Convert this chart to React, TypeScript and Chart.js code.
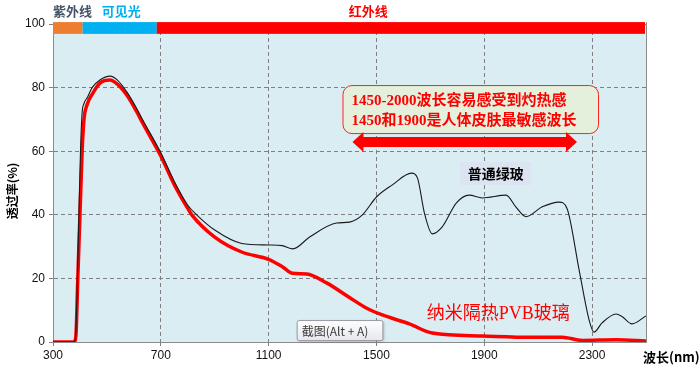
import React, { useEffect, useRef } from "react";
import { Chart, registerables } from "chart.js";

Chart.register(...registerables);

// 普通绿玻 (ordinary green glass)
const greenWl = [300, 375, 383, 390, 396, 402, 408, 415, 428, 445, 474, 511, 540, 575, 610, 633, 700, 750, 800, 833, 900, 1000, 1100, 1150, 1190, 1252, 1352, 1400, 1448, 1500, 1559, 1630, 1652, 1678, 1707, 1744, 1796, 1844, 1893, 1981, 2017, 2055, 2115, 2178, 2207, 2252, 2289, 2307, 2337, 2389, 2411, 2448, 2500];
const greenT = [0, 0, 1, 18, 40, 60, 72, 75, 77, 80, 82.4, 83.6, 82.3, 78.5, 73.5, 69.8, 59.5, 50.5, 43, 40, 35.2, 31, 30.5, 30.3, 29.3, 33, 37.4, 37.7, 40, 45.6, 49.4, 53.1, 51.6, 40.5, 34, 36.2, 43.7, 46.2, 45.3, 46.2, 42.5, 39.4, 42.5, 44, 42, 22.6, 6.9, 3.1, 6, 8.8, 8, 5.7, 8.2];

// 纳米隔热PVB玻璃 (nano heat-insulating PVB glass)
const pvbWl = [300, 378, 385, 392, 400, 408, 415, 426, 448, 475, 511, 540, 575, 610, 633, 700, 750, 800, 815, 900, 1000, 1100, 1152, 1189, 1241, 1315, 1400, 1462, 1522, 1622, 1707, 1893, 2078, 2189, 2263, 2389, 2500];
const pvbT = [0, 0, 2, 20, 40, 60, 70, 74.5, 78.3, 81.5, 82.4, 81, 77.5, 72.5, 68.8, 58.5, 49.5, 42, 40, 33, 28.3, 26, 23.6, 21.6, 21.4, 18.6, 14, 10.7, 8.5, 5.7, 2.8, 1.9, 1.5, 1.5, 0.5, 0.7, 0.3];

// spectrum band (nm boundaries)
const bandNames = ["紫外线", "可见光", "红外线"];
const bandStart = [300, 410, 685];
const bandEnd = [410, 685, 2500];
const bandColors = ["#ed7d31", "#00b0f0", "#ff0000"];

const xTicks = [300, 700, 1100, 1500, 1900, 2300];
const yTicks = [0, 20, 40, 60, 80, 100];

const decor = {
  id: "decor",
  beforeDraw(chart: any) {
    const { ctx, chartArea } = chart;
    ctx.save();
    ctx.fillStyle = "#daedf3";
    ctx.fillRect(chartArea.left, chartArea.top, chartArea.right - chartArea.left, chartArea.bottom - chartArea.top);
    ctx.restore();
  },
  afterDraw(chart: any) {
    const { ctx, chartArea } = chart;
    const xs = chart.scales.x;
    const ys = chart.scales.y;
    const px = (v: number) => xs.getPixelForValue(v);
    const py = (v: number) => ys.getPixelForValue(v);
    ctx.save();

    // band
    const bTop = py(100.6);
    const bBot = py(96.9);
    for (let i = 0; i < bandStart.length; i++) {
      ctx.fillStyle = bandColors[i];
      const x0 = px(bandStart[i]);
      const x1 = Math.min(px(bandEnd[i]), chartArea.right - 1);
      ctx.fillRect(x0, bTop, x1 - x0, bBot - bTop);
    }
    // right frame
    ctx.strokeStyle = "#8c8c8c";
    ctx.lineWidth = 1;
    ctx.beginPath();
    ctx.moveTo(Math.round(chartArea.right) + 0.5, bTop);
    ctx.lineTo(Math.round(chartArea.right) + 0.5, chartArea.bottom);
    ctx.stroke();

    // band labels
    ctx.font = "bold 13px 'Noto Sans CJK SC', sans-serif";
    ctx.textBaseline = "middle";
    ctx.textAlign = "left";
    ctx.fillStyle = "#44546a";
    ctx.fillText(bandNames[0], px(300), 11);
    ctx.fillStyle = "#00b0f0";
    ctx.fillText(bandNames[1], px(481), 11);
    ctx.fillStyle = "#ff0000";
    ctx.textAlign = "center";
    ctx.fillText(bandNames[2], px(1470), 11);

    // annotation box
    const rx0 = px(1374), rx1 = px(2322), ry0 = py(80.8), ry1 = py(65.7);
    ctx.beginPath();
    ctx.roundRect(rx0 + 0.5, ry0 + 0.5, rx1 - rx0, ry1 - ry0, 9);
    ctx.fillStyle = "#e4f0dc";
    ctx.fill();
    ctx.strokeStyle = "#ff2020";
    ctx.lineWidth = 1;
    ctx.stroke();
    ctx.fillStyle = "#ff0000";
    ctx.font = "bold 15px 'Liberation Serif', 'Noto Sans CJK SC', serif";
    ctx.textAlign = "left";
    ctx.textBaseline = "middle";
    ctx.fillText("1450-2000波长容易感受到灼热感", px(1407), py(75.8));
    ctx.fillText("1450和1900是人体皮肤最敏感波长", px(1407), py(69.5));

    // double arrow
    const ax0 = px(1411), ax1 = px(2244), ay = py(62.9);
    const head = 11, shaft = 5, hh = 10;
    ctx.beginPath();
    ctx.moveTo(ax0, ay);
    ctx.lineTo(ax0 + head, ay - hh);
    ctx.lineTo(ax0 + head, ay - shaft);
    ctx.lineTo(ax1 - head, ay - shaft);
    ctx.lineTo(ax1 - head, ay - hh);
    ctx.lineTo(ax1, ay);
    ctx.lineTo(ax1 - head, ay + hh);
    ctx.lineTo(ax1 - head, ay + shaft);
    ctx.lineTo(ax0 + head, ay + shaft);
    ctx.lineTo(ax0 + head, ay + hh);
    ctx.closePath();
    ctx.fillStyle = "#ff0000";
    ctx.fill();

    // 普通绿玻 label
    const gx0 = px(1811), gx1 = px(2074), gy0 = py(56.6), gy1 = py(49.4);
    ctx.fillStyle = "#dce3f1";
    ctx.fillRect(gx0, gy0, gx1 - gx0, gy1 - gy0);
    ctx.fillStyle = "#000000";
    ctx.font = "bold 14px 'Noto Sans CJK SC', sans-serif";
    ctx.textAlign = "center";
    ctx.fillText("普通绿玻", (gx0 + gx1) / 2, (gy0 + gy1) / 2);

    // 纳米隔热PVB玻璃 label
    ctx.fillStyle = "#ff0000";
    ctx.font = "18px 'Liberation Serif', 'Noto Sans CJK SC', serif";
    ctx.fillText("纳米隔热PVB玻璃", px(1952), py(8.6));

    // screenshot tooltip
    const tx0 = px(1204), tx1 = px(1522), ty0 = py(6.9), ty1 = py(0.6);
    ctx.shadowColor = "rgba(0,0,0,0.25)";
    ctx.shadowBlur = 3;
    ctx.shadowOffsetX = 1;
    ctx.shadowOffsetY = 1;
    const g = ctx.createLinearGradient(0, ty0, 0, ty1);
    g.addColorStop(0, "#ffffff");
    g.addColorStop(1, "#e6e8f0");
    ctx.fillStyle = g;
    ctx.beginPath();
    ctx.roundRect(tx0 + 0.5, ty0 + 0.5, tx1 - tx0, ty1 - ty0, 2);
    ctx.fill();
    ctx.shadowColor = "transparent";
    ctx.strokeStyle = "#9a9aa2";
    ctx.stroke();
    ctx.fillStyle = "#3a3a3a";
    ctx.font = "12px 'Noto Sans CJK SC', sans-serif";
    ctx.textAlign = "left";
    ctx.fillText("截图(Alt + A)", tx0 + 5, (ty0 + ty1) / 2 + 1);

    // axis titles
    ctx.fillStyle = "#000000";
    ctx.font = "bold 13px 'Noto Sans CJK SC', sans-serif";
    ctx.textAlign = "left";
    ctx.fillText("波长(nm)", chartArea.right - 3, chartArea.bottom + 15);
    ctx.save();
    ctx.translate(12, (chartArea.top + chartArea.bottom) / 2 + 8);
    ctx.rotate(-Math.PI / 2);
    ctx.textAlign = "center";
    ctx.font = "bold 12px 'Noto Sans CJK SC', sans-serif";
    ctx.fillText("透过率(%)", 0, 0);
    ctx.restore();

    ctx.restore();
  },
};

export default function App() {
  const ref = useRef<HTMLCanvasElement | null>(null);
  useEffect(() => {
    if (!ref.current) return;
    const chart = new Chart(ref.current, {
      type: "line",
      data: {
        datasets: [
          {
            label: "普通绿玻",
            data: greenWl.map((x, i) => ({ x, y: greenT[i] })),
            borderColor: "#1a1a1a",
            borderWidth: 1.1,
            pointRadius: 0,
            cubicInterpolationMode: "monotone",
            fill: false,
          },
          {
            label: "纳米隔热PVB玻璃",
            data: pvbWl.map((x, i) => ({ x, y: pvbT[i] })),
            borderColor: "#ff0000",
            borderWidth: 3.5,
            pointRadius: 0,
            cubicInterpolationMode: "monotone",
            fill: false,
          },
        ],
      },
      options: {
        animation: false,
        responsive: false,
        devicePixelRatio: 1,
        layout: { padding: { left: 0, right: 54, top: 24, bottom: 0 } },
        plugins: { legend: { display: false }, tooltip: { enabled: false } },
        scales: {
          x: {
            type: "linear",
            min: 300,
            max: 2500,
            afterBuildTicks: (s: any) => {
              s.ticks = xTicks.map((v) => ({ value: v }));
            },
            afterFit: (s: any) => {
              s.height = 35;
            },
            ticks: {
              color: "#111",
              font: { family: "'Liberation Sans', sans-serif", size: 12 },
              padding: 2,
              maxRotation: 0,
              callback: (v: any) => String(v),
            },
            grid: { color: "#7f7f7f", tickLength: 4, tickColor: "#7f7f7f", tickBorderDash: [] },
            border: { color: "#8c8c8c", dash: [4, 3] },
          },
          y: {
            min: 0,
            max: 100,
            afterBuildTicks: (s: any) => {
              s.ticks = yTicks.map((v) => ({ value: v }));
            },
            afterFit: (s: any) => {
              s.width = 53;
            },
            ticks: {
              color: "#111",
              font: { family: "'Liberation Sans', sans-serif", size: 12 },
              padding: 4,
              callback: (v: any) => String(v),
            },
            grid: { color: "#7f7f7f", tickLength: 4, tickColor: "#7f7f7f", tickBorderDash: [] },
            border: { color: "#8c8c8c", dash: [4, 3] },
          },
        },
      },
      plugins: [decor],
    } as any);
    return () => chart.destroy();
  }, []);
  return (
    <div style={{ position: "fixed", left: 0, top: 0, width: 700, height: 377, background: "#fff" }}>
      <canvas ref={ref} width={700} height={377} style={{ width: 700, height: 377 }} />
    </div>
  );
}
